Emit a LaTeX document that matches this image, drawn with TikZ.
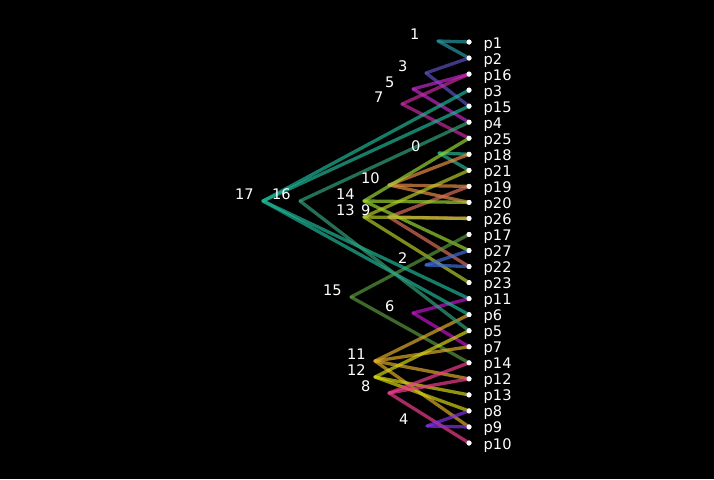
\documentclass[tikz,border=0pt]{standalone}
\usepackage{fontspec}
\setmainfont{DejaVu Sans}
\definecolor{c1}{RGB}{40,150,160}
\definecolor{c3}{RGB}{90,80,190}
\definecolor{c5}{RGB}{190,40,200}
\definecolor{c7}{RGB}{200,40,160}
\definecolor{c0}{RGB}{40,180,140}
\definecolor{c10}{RGB}{230,140,70}
\definecolor{c9}{RGB}{220,110,90}
\definecolor{c14}{RGB}{150,210,50}
\definecolor{c13}{RGB}{180,200,40}
\definecolor{c2}{RGB}{60,110,220}
\definecolor{c15}{RGB}{90,150,60}
\definecolor{c6}{RGB}{190,20,200}
\definecolor{c11}{RGB}{220,170,40}
\definecolor{c12}{RGB}{210,210,20}
\definecolor{c8}{RGB}{240,60,140}
\definecolor{c4}{RGB}{130,50,230}
\definecolor{c17}{RGB}{30,180,150}
\definecolor{c16}{RGB}{50,160,120}
\begin{document}
\begin{tikzpicture}[x=1pt,y=-1pt,
  leaf/.style={circle,fill=white,inner sep=0pt,minimum size=5pt},
  inode/.style={inner sep=0pt,minimum size=0pt},
  lab/.style={anchor=base west,text=white,inner sep=0pt,font=\fontsize{14.6}{14.6}\selectfont},
  edge/.style={line width=3.3pt,opacity=0.7,line cap=round}]
\fill[black] (0,0) rectangle (714,479);
\useasboundingbox (0,0) rectangle (714,479);
% leaves
\foreach \nm [count=\i from 0] in {p1,p2,p16,p3,p15,p4,p25,p18,p21,p19,p20,p26,p17,p27,p22,p23,p11,p6,p5,p7,p14,p12,p13,p8,p9,p10}{
  \node[leaf] (\nm) at (469,{42+16.04*\i}) {};
}
% internal nodes
\foreach \nm/\x/\y in {1/438/41,3/426/73,5/413/89,7/402/104,0/439/153,10/389/185,14/364/201,13/364/217,9/389/217,2/426/265,15/351/297,6/413/313,11/375/361,12/375/377,8/389/393,4/427/426,17/263/201,16/300/201}{
  \node[inode] (n\nm) at (\x,\y) {};
}
% edges
\foreach \s/\c/\lst in {n1/c1/{p1,p2},n3/c3/{p2,p15},n5/c5/{p16,p4},n7/c7/{p16,p25},
  n0/c0/{p18,p21},n10/c10/{p18,p19,p20},n9/c9/{p19,p26,p22},n14/c14/{p25,p20,p27},
  n13/c13/{p21,p26,p23},n2/c2/{p27,p22},n15/c15/{p17,p14},n6/c6/{p11,p7},
  n11/c11/{p6,p7,p12,p9},n12/c12/{p5,p13,p8},n8/c8/{p14,p12,p10},n4/c4/{p8,p9},
  n17/c17/{p3,p15,p11,p6},n16/c16/{p4,p5}}{
  \foreach \t in \lst {\draw[edge,draw=\c] (\s.center) -- (\t.center);}
}
% leaves on top
\foreach \nm in {p1,p2,p16,p3,p15,p4,p25,p18,p21,p19,p20,p26,p17,p27,p22,p23,p11,p6,p5,p7,p14,p12,p13,p8,p9,p10}{
  \node[leaf] at (\nm.center) {};
  \node[lab] (l\nm) at ([xshift=14.5pt,yshift=-6pt]\nm.center) {\nm};
}
% internal labels
\foreach \nm in {1,3,5,7,0,10,14,13,9,2,15,6,11,12,8,4,17,16}{
  \node[lab] (ln\nm) at ([xshift=-28pt,yshift=1.5pt]n\nm.center) {\nm};
}
\end{tikzpicture}
\end{document}
